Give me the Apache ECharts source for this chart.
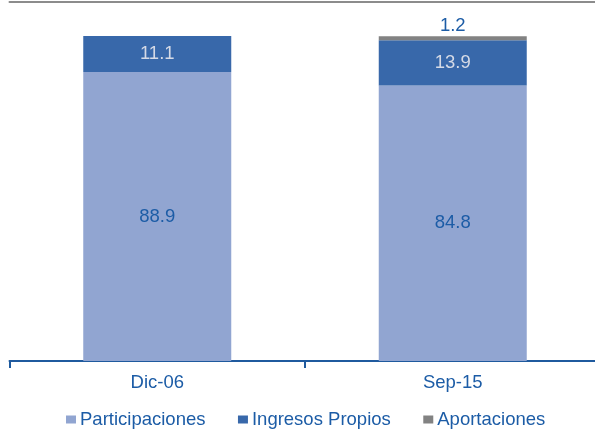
<!DOCTYPE html>
<html><head><meta charset="utf-8">
<script src="https://cdn.jsdelivr.net/npm/echarts@6/dist/echarts.min.js"></script>
<style>html,body{margin:0;padding:0;background:#fff}#c{width:595px;height:432px}</style>
</head><body><div id="c"></div>
<script>
const categories = ['Dic-06', 'Sep-15'];
const participaciones = [88.9, 84.8];
const ingresosPropios = [11.1, 13.9];
const aportaciones = [null, 1.2];
const seriesNames = ['Participaciones', 'Ingresos Propios', 'Aportaciones'];

const FONT = '"Liberation Sans", Arial, sans-serif';
const FS = 18.5;
const BLUE_TXT = '#1C5CA6';
const chart = echarts.init(document.getElementById('c'), null, {renderer: 'canvas'});
const fmt = p => (p.value == null ? '' : p.value.toFixed(1));
chart.setOption({
  animation: false,
  textStyle: {fontFamily: FONT},
  grid: {left: 9.5, width: 591, top: 2, bottom: 71, containLabel: false, outerBoundsMode: 'none'},
  legend: {
    data: seriesNames, left: 66, top: 410, padding: 0, itemWidth: 10, itemHeight: 8, itemGap: 32.5,
    icon: 'rect', textStyle: {fontFamily: FONT, fontSize: FS, color: BLUE_TXT, padding: [0, 0, 0, -1]}
  },
  xAxis: [{
    type: 'category', data: categories, position: 'bottom',
    axisLine: {lineStyle: {color: '#1F5A9E', width: 2}},
    axisTick: {show: true, length: 7, lineStyle: {color: '#1F5A9E', width: 2}},
    axisLabel: {fontFamily: FONT, fontSize: FS, color: BLUE_TXT, margin: 12}
  }, {
    type: 'category', data: categories, position: 'top',
    axisLine: {lineStyle: {color: '#8C8C8C', width: 2}},
    axisTick: {show: false}, axisLabel: {show: false}
  }],
  yAxis: {type: 'value', min: 0, max: 110.46, show: false, splitLine: {show: false}},
  series: [{
    name: seriesNames[0], type: 'bar', stack: 's', data: participaciones, barWidth: 148,
    itemStyle: {color: '#91A5D1'},
    label: {show: true, position: 'inside', formatter: fmt, fontFamily: FONT, fontSize: FS, color: BLUE_TXT}
  }, {
    name: seriesNames[1], type: 'bar', stack: 's', data: ingresosPropios, barWidth: 148,
    itemStyle: {color: '#3868AA'},
    label: {show: true, position: 'inside', formatter: fmt, fontFamily: FONT, fontSize: FS, color: '#D5DAE6'}
  }, {
    name: seriesNames[2], type: 'bar', stack: 's', data: aportaciones, barWidth: 148,
    itemStyle: {color: '#828282'},
    label: {show: true, position: 'top', distance: 1, formatter: fmt, fontFamily: FONT, fontSize: FS, color: BLUE_TXT}
  }]
});
</script></body></html>
